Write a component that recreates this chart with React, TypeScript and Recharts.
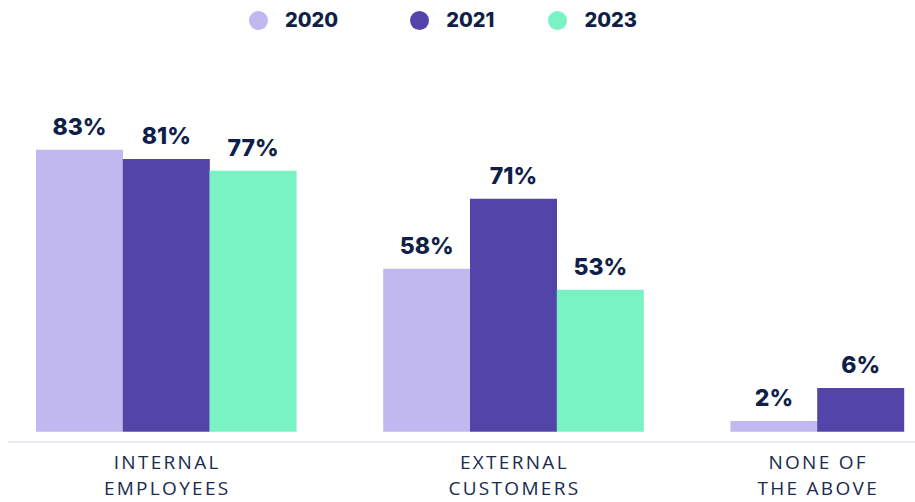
import { BarChart, Bar, XAxis, YAxis, Cell, LabelList } from 'recharts';

// categories and series
const GROUPS = [['INTERNAL', 'EMPLOYEES'], ['EXTERNAL', 'CUSTOMERS'], ['NONE OF', 'THE ABOVE']];
const YEARS = ['2020', '2021', '2023'];
const COLORS = ['#c1b8f0', '#5244a9', '#79f3c3'];

// printed percentages
const PCT_2020 = [83, 58, 2];
const PCT_2021 = [81, 71, 6];
const PCT_2023 = [77, 53, null];

// bar heights as drawn in the source (same % scale, bars are not to scale there)
const BAR_2020 = [83, 48, 3.2];
const BAR_2021 = [80.3, 68.6, 12.9];
const BAR_2023 = [76.8, 41.8, null];

const NAVY = '#0f1f47';
const W = 915;
const H = 502;
const MARGIN = { top: 92, right: 0, bottom: 0, left: 8 };
const PAD = { left: 28, right: 11 };

type Row = { slot: string; height: number | null; pct: number | null; color: string; group: number; first: boolean; size: number };

const pcts = [PCT_2020, PCT_2021, PCT_2023];
const bars = [BAR_2020, BAR_2021, BAR_2023];

const rows: Row[] = [];
GROUPS.forEach((_, gi) => {
  const present = YEARS.map((_, yi) => yi).filter((yi) => pcts[yi][gi] != null);
  present.forEach((yi, k) => {
    rows.push({
      slot: `${gi}-${YEARS[yi]}`,
      height: bars[yi][gi],
      pct: pcts[yi][gi],
      color: COLORS[yi],
      group: gi,
      first: k === 0,
      size: present.length,
    });
  });
  if (gi < GROUPS.length - 1) {
    rows.push({ slot: `gap${gi}`, height: null, pct: null, color: 'none', group: gi, first: false, size: 0 });
  }
});

const BAND = (W - MARGIN.left - MARGIN.right - PAD.left - PAD.right) / rows.length;

function GroupTick(props: any) {
  const { x, y, payload } = props;
  const row = rows.find((r) => r.slot === payload.value);
  if (!row || !row.first) return null;
  const cx = x + ((row.size - 1) / 2) * BAND;
  const lines = GROUPS[row.group];
  return (
    <text
      x={cx}
      y={y}
      textAnchor="middle"
      fill="#1a2a50"
      style={{ fontFamily: '"Open Sans", sans-serif', fontSize: 19, letterSpacing: 2.3 }}
    >
      {lines.map((l, i) => (
        <tspan key={i} x={cx + 1} y={y + 27 + i * 26}>
          {l}
        </tspan>
      ))}
    </text>
  );
}

const LEGEND_GAPS = [0, 72, 54];

export default function App() {
  return (
    <div style={{ position: 'absolute', left: 0, top: 0, width: W, height: H, background: '#fff' }}>
      <div
        style={{
          position: 'absolute',
          left: 249,
          top: 10,
          display: 'flex',
          alignItems: 'center',
          fontFamily: 'Inter, sans-serif',
          fontWeight: 800,
          fontSize: 20,
          color: NAVY,
          height: 20,
        }}
      >
        {YEARS.map((yr, i) => (
          <div key={yr} style={{ display: 'flex', alignItems: 'center', marginLeft: LEGEND_GAPS[i] }}>
            <span style={{ width: 19, height: 19, borderRadius: '50%', background: COLORS[i], display: 'inline-block' }} />
            <span style={{ marginLeft: 17, lineHeight: '20px' }}>{yr}</span>
          </div>
        ))}
      </div>
      <BarChart width={W} height={H} data={rows} margin={MARGIN} barCategoryGap={0} barGap={0}>
        <XAxis
          dataKey="slot"
          interval={0}
          padding={PAD}
          height={60}
          tickSize={0}
          tickMargin={0}
          tickLine={false}
          axisLine={{ stroke: '#e6e4ef', strokeWidth: 1.5 }}
          tick={<GroupTick />}
        />
        <YAxis hide domain={[-3, 100]} />
        <Bar dataKey="height" isAnimationActive={false}>
          {rows.map((r) => (
            <Cell key={r.slot} fill={r.color} />
          ))}
          <LabelList
            dataKey="pct"
            position="top"
            offset={15}
            fill={NAVY}
            formatter={(v: any) => (v == null ? '' : `${v}%`)}
            style={{ fontFamily: 'Inter, sans-serif', fontWeight: 800, fontSize: 23 }}
          />
        </Bar>
      </BarChart>
    </div>
  );
}
